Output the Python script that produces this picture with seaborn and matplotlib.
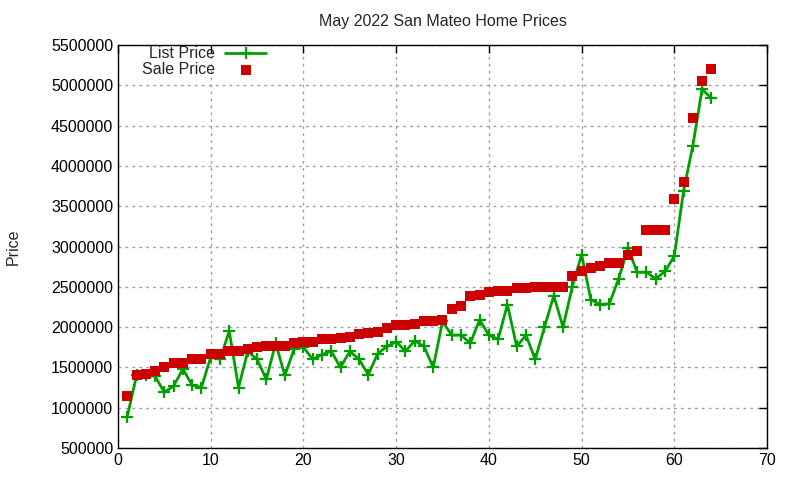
import seaborn as sns
import matplotlib.pyplot as plt
import numpy as np
import pandas as pd

# Home index (sorted by sale price)
homes = list(range(1, 65))

list_price = [
    890000, 1400000, 1400000, 1390000, 1190000, 1270000, 1480000, 1280000, 1250000, 1630000,
    1600000, 1950000, 1250000, 1700000, 1600000, 1350000, 1800000, 1400000, 1730000, 1750000,
    1600000, 1660000, 1700000, 1500000, 1700000, 1600000, 1410000, 1670000, 1760000, 1820000,
    1700000, 1830000, 1760000, 1500000, 2070000, 1900000, 1900000, 1800000, 2090000, 1900000,
    1850000, 2280000, 1760000, 1900000, 1600000, 2000000, 2390000, 2000000, 2500000, 2900000,
    2340000, 2280000, 2290000, 2600000, 2980000, 2680000, 2680000, 2600000, 2690000, 2880000,
    3690000, 4250000, 4950000, 4840000,
]

sale_price = [
    1150000, 1400000, 1420000, 1450000, 1500000, 1550000, 1550000, 1600000, 1600000, 1670000,
    1670000, 1700000, 1700000, 1730000, 1750000, 1760000, 1760000, 1760000, 1800000, 1820000,
    1820000, 1850000, 1850000, 1860000, 1880000, 1920000, 1930000, 1940000, 1990000, 2020000,
    2020000, 2040000, 2080000, 2080000, 2090000, 2230000, 2260000, 2380000, 2400000, 2430000,
    2450000, 2450000, 2480000, 2490000, 2500000, 2500000, 2500000, 2500000, 2630000, 2700000,
    2730000, 2760000, 2800000, 2800000, 2900000, 2940000, 3200000, 3200000, 3200000, 3590000,
    3800000, 4600000, 5050000, 5200000,
]

df = pd.DataFrame({"home": homes, "list": list_price, "sale": sale_price})

sns.set_style("white")
plt.rcParams["font.family"] = ["Liberation Sans", "DejaVu Sans"]
plt.rcParams["font.size"] = 11.5

fig = plt.figure(figsize=(8, 4.8), dpi=100)
ax = fig.add_axes([118 / 800, 1 - 448 / 480, (767 - 118) / 800, (448 - 45) / 480])

green = "#00a000"
sns.lineplot(data=df, x="home", y="list", ax=ax, color=green, lw=2,
             marker="+", markersize=8, markeredgewidth=1.6, markeredgecolor=green,
             label="List Price")
sns.scatterplot(data=df, x="home", y="sale", ax=ax, color="#cc0000", marker="s",
                s=42, linewidth=0, label="Sale Price", zorder=3)

ax.set_xlim(0, 70)
ax.set_ylim(500000, 5500000)
ax.set_xticks(np.arange(0, 71, 10))
ax.set_yticks(np.arange(500000, 5500001, 500000))
ax.ticklabel_format(style="plain", axis="y", useOffset=False)
ax.grid(True, color="#a0a0a0", linestyle=(0, (2, 3)), lw=1)
ax.tick_params(direction="in", top=True, right=True, length=6, width=1,
               labelsize=11.5, colors="black")
for s in ax.spines.values():
    s.set_color("black")
    s.set_linewidth(1)

ax.set_xlabel("")
ax.set_ylabel("Price", fontsize=11.5, labelpad=22)
ax.set_title("May 2022 San Mateo Home Prices", fontsize=11.5, pad=14)

leg = ax.legend(loc="upper left", bbox_to_anchor=(0.02, 1.025), frameon=False,
                markerfirst=False, fontsize=11.5, handlelength=2.6,
                borderaxespad=0.3, labelspacing=0.05, handletextpad=0.6)
for t in leg.get_texts():
    t.set_ha("right")

fig.savefig("out.png", dpi=100)
